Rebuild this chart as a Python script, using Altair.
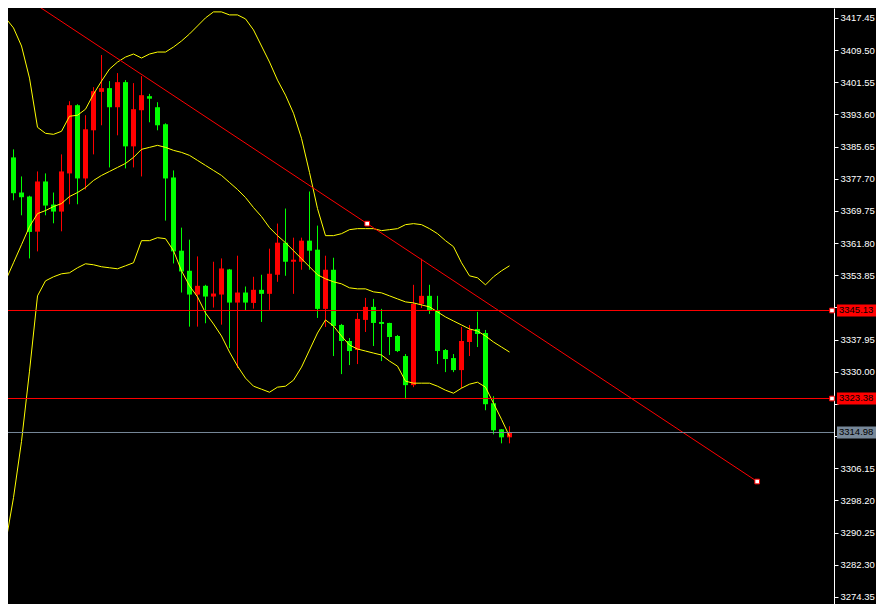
import altair as alt
import pandas as pd

# ---------------- data ----------------
candle_index = list(range(64))
opens = [3378.51, 3382.97, 3374.29, 3373.30, 3364.62, 3377.02, 3371.32, 3369.58, 3379.01, 3395.87,
         3377.77, 3389.67, 3399.17, 3400.09, 3395.37, 3401.57, 3385.70, 3394.63, 3398.10, 3395.37,
         3391.16, 3378.01, 3359.91, 3354.95, 3349.07, 3351.23, 3348.58, 3349.07, 3355.27, 3347.09,
         3349.57, 3347.01, 3350.24, 3349.25, 3353.96, 3361.89, 3357.18, 3357.18, 3362.39, 3360.16,
         3345.53, 3355.20, 3341.56, 3337.59, 3335.36, 3342.80, 3346.02, 3342.30, 3342.05, 3338.83,
         3333.87, 3326.68, 3346.77, 3348.75, 3345.03, 3335.36, 3333.37, 3330.40, 3337.34, 3340.57,
         3339.57, 3322.21, 3315.77, 3313.78]
highs = [3383.97, 3384.96, 3378.26, 3373.50, 3379.50, 3379.01, 3374.29, 3383.72, 3396.86, 3396.12,
         3393.39, 3400.33, 3408.27, 3401.82, 3403.81, 3402.07, 3401.33, 3403.06, 3398.67, 3396.61,
         3391.41, 3379.75, 3365.61, 3362.64, 3358.50, 3351.48, 3357.18, 3358.00, 3355.40, 3358.67,
         3351.06, 3353.46, 3353.96, 3360.41, 3366.61, 3370.33, 3363.13, 3363.13, 3374.54, 3366.11,
         3358.67, 3358.17, 3341.81, 3338.33, 3344.53, 3348.25, 3348.01, 3345.53, 3342.10, 3339.08,
         3334.37, 3351.48, 3357.93, 3351.48, 3348.75, 3335.61, 3334.37, 3341.06, 3341.56, 3344.78,
         3340.32, 3323.95, 3315.80, 3316.51]
lows = [3377.52, 3372.38, 3368.66, 3358.00, 3359.74, 3368.66, 3366.68, 3364.70, 3371.39, 3371.39,
        3375.04, 3383.72, 3390.91, 3380.49, 3388.43, 3380.25, 3380.49, 3378.26, 3391.65, 3389.67,
        3367.35, 3356.76, 3349.57, 3341.14, 3341.14, 3341.98, 3345.85, 3341.63, 3335.85, 3330.89,
        3345.03, 3345.60, 3342.30, 3345.28, 3352.22, 3353.71, 3349.25, 3355.20, 3355.20, 3343.29,
        3341.06, 3333.87, 3329.41, 3331.64, 3331.89, 3339.82, 3336.35, 3332.63, 3334.12, 3334.86,
        3323.21, 3326.18, 3345.77, 3344.29, 3331.89, 3329.90, 3329.90, 3325.93, 3333.87, 3336.10,
        3320.48, 3314.53, 3312.30, 3312.30]
closes = [3382.97, 3374.12, 3373.13, 3364.55, 3377.02, 3371.07, 3369.58, 3379.50, 3395.87, 3377.77,
          3389.92, 3399.34, 3400.09, 3395.37, 3401.57, 3385.70, 3394.88, 3398.35, 3397.48, 3390.91,
          3377.77, 3359.74, 3354.78, 3349.07, 3351.23, 3348.58, 3349.32, 3355.52, 3347.09, 3349.57,
          3347.09, 3350.24, 3349.25, 3354.21, 3361.89, 3357.18, 3357.68, 3362.39, 3359.91, 3345.53,
          3355.20, 3341.31, 3337.59, 3335.11, 3343.05, 3346.02, 3342.05, 3341.81, 3338.58, 3335.11,
          3326.68, 3346.77, 3348.75, 3345.03, 3335.11, 3333.13, 3330.40, 3337.59, 3340.32, 3339.33,
          3321.97, 3315.52, 3313.78, 3314.98]

band_index = list(range(-1, 64))
upper_band = [3416.70, 3417.45, 3414.97, 3410.50, 3402.56, 3390.41, 3388.92, 3388.67, 3389.42, 3393.14,
              3393.39, 3394.88, 3398.60, 3401.82, 3404.80, 3406.53, 3407.77, 3408.52, 3407.53, 3408.52,
              3409.01, 3409.01, 3410.25, 3411.74, 3413.48, 3415.46, 3417.45, 3418.93, 3418.93, 3418.19,
              3418.19, 3417.20, 3414.47, 3410.50, 3406.53, 3402.07, 3398.35, 3393.88, 3387.68, 3379.25,
              3370.32, 3363.63, 3363.63, 3364.12, 3365.11, 3365.36, 3365.36, 3365.36, 3364.87, 3365.11,
              3365.36, 3366.35, 3366.60, 3366.35, 3365.36, 3364.12, 3362.39, 3360.90, 3356.93, 3353.70,
              3353.21, 3351.47, 3353.46, 3354.94, 3356.18]
middle_band = [3347.50, 3352.46, 3356.93, 3361.39, 3365.86, 3369.08, 3369.83, 3370.82, 3371.56, 3373.30,
               3374.29, 3375.53, 3377.27, 3378.51, 3379.50, 3380.49, 3381.48, 3382.97, 3384.96, 3385.45,
               3385.95, 3385.45, 3384.71, 3384.21, 3383.47, 3382.23, 3380.99, 3379.75, 3378.51, 3376.77,
               3375.04, 3373.05, 3370.57, 3368.34, 3365.61, 3363.63, 3361.89, 3359.91, 3357.93, 3355.94,
               3353.96, 3352.96, 3352.22, 3351.72, 3350.73, 3350.48, 3350.48, 3349.74, 3349.49, 3348.75,
               3348.00, 3347.26, 3347.01, 3346.51, 3346.02, 3344.78, 3343.54, 3342.54, 3341.56, 3340.57,
               3340.06, 3338.83, 3337.34, 3336.10, 3334.86]
lower_band = [3278.55, 3287.48, 3298.89, 3312.78, 3330.14, 3348.74, 3352.46, 3353.46, 3354.20, 3354.45,
              3355.69, 3356.68, 3356.43, 3355.94, 3355.69, 3355.44, 3356.18, 3356.93, 3362.39, 3362.39,
              3363.13, 3362.88, 3359.91, 3354.94, 3351.23, 3348.50, 3344.53, 3341.80, 3338.82, 3334.86,
              3331.38, 3328.41, 3326.42, 3325.68, 3324.93, 3326.18, 3326.42, 3327.91, 3331.13, 3335.35,
              3339.57, 3342.80, 3341.30, 3338.82, 3336.59, 3335.61, 3335.11, 3334.61, 3334.12, 3332.63,
              3331.38, 3327.66, 3327.17, 3327.17, 3327.17, 3326.42, 3325.43, 3324.69, 3325.93, 3326.92,
              3327.41, 3326.18, 3322.21, 3318.24, 3314.02]

tick_values = [3417.45, 3409.50, 3401.55, 3393.60, 3385.65, 3377.70, 3369.75, 3361.80, 3353.85,
               3345.90, 3337.95, 3330.00, 3322.05, 3314.10, 3306.15, 3298.20, 3290.25, 3282.30, 3274.35]
# tick labels that sit under the price tags in the reference
covered_ticks = [3345.90, 3322.05, 3314.10]

trend_index = [-3.54, 93.96]
trend_price = [3430.34, 3302.86]
trend_marker_index = [45.21, 93.96]
trend_marker_price = [3366.60, 3302.86]

level_prices = [3345.13, 3323.38]
bid_price = [3314.98]

# ---------------- frames ----------------
candles = pd.DataFrame({"i": candle_index, "open": opens, "high": highs,
                        "low": lows, "close": closes})
candles["dir"] = ["up" if c >= o else "down" for o, c in zip(opens, closes)]

bands = pd.concat([
    pd.DataFrame({"i": band_index, "price": upper_band, "band": "upper"}),
    pd.DataFrame({"i": band_index, "price": middle_band, "band": "middle"}),
    pd.DataFrame({"i": band_index, "price": lower_band, "band": "lower"}),
])
trend = pd.DataFrame({"i": trend_index, "price": trend_price})
trend_markers = pd.DataFrame({"i": trend_marker_index, "price": trend_marker_price})
levels = pd.DataFrame({"price": level_prices})
bid = pd.DataFrame({"price": bid_price})
tags = pd.DataFrame({
    "price": level_prices + bid_price,
    "label": [f"{p:.2f}" for p in level_prices + bid_price],
    "bg": ["#ff0000", "#ff0000", "#778899"],
})

# ---------------- scales / axis ----------------
FONT = "Liberation Sans"
FS = 9.5

xs = alt.Scale(domain=[0.3125, 103.5625], nice=False, zero=False, padding=0)
ys = alt.Scale(domain=[3272.589, 3419.895], nice=False, zero=False, padding=0)
hidden = " || ".join(f"abs(datum.value - {v}) < 0.01" for v in covered_ticks)
yaxis = alt.Axis(
    orient="right", values=tick_values, format=".2f", grid=False,
    labelExpr=f"({hidden}) ? '' : format(datum.value, '.2f')",
    domainColor="#ffffff", domainWidth=1, tickColor="#ffffff", tickSize=4, tickWidth=1,
    labelColor="#ffffff", labelFont=FONT, labelFontSize=FS, labelPadding=2,
    labelOverlap=False, labelFlush=False, title=None)

X = alt.X("i:Q", scale=xs, axis=None)


def Y(field):
    return alt.Y(field, scale=ys, axis=yaxis)


col = alt.Color("dir:N", scale=alt.Scale(domain=["up", "down"], range=["#ff0000", "#00ff00"]),
                legend=None)

wicks = alt.Chart(candles).mark_rule(strokeWidth=1).encode(
    x=X, y=Y("low:Q"), y2="high:Q", color=col,
)
bodies = alt.Chart(candles).mark_bar(width=5).encode(
    x=X, y=Y("open:Q"), y2="close:Q", color=col,
)
band_lines = alt.Chart(bands).mark_line(color="#ffff00", strokeWidth=1, clip=True).encode(
    x=X, y=Y("price:Q"), detail="band:N",
)
trend_line = alt.Chart(trend).mark_line(color="#ff0000", strokeWidth=1, clip=True).encode(
    x=X, y=Y("price:Q"),
)
trend_pts = alt.Chart(trend_markers).mark_square(
    size=22, fill="#ffffff", stroke="#ff0000", strokeWidth=1, opacity=1, fillOpacity=1
).encode(x=X, y=Y("price:Q"))
level_rules = alt.Chart(levels).mark_rule(color="#ff0000", strokeWidth=1).encode(
    y=Y("price:Q"))
bid_rule = alt.Chart(bid).mark_rule(color="#778899", strokeWidth=1).encode(
    y=Y("price:Q"))
level_pts = alt.Chart(levels).mark_square(
    size=22, fill="#ffffff", stroke="#ff0000", strokeWidth=1, opacity=1, fillOpacity=1
).encode(x=alt.value(824), y=Y("price:Q"))
tag_boxes = alt.Chart(tags).mark_rule(strokeWidth=12, strokeCap="butt").encode(
    x=alt.value(829), x2=alt.value(868), y=Y("price:Q"),
    color=alt.Color("bg:N", scale=None),
)
tag_text = alt.Chart(tags).mark_text(
    align="left", baseline="middle", font=FONT, fontSize=FS, color="#000000"
).encode(x=alt.value(831), y=Y("price:Q"), text="label:N")

chart = alt.layer(
    wicks, bodies, band_lines, trend_line, level_rules, bid_rule,
    trend_pts, level_pts, tag_boxes, tag_text,
).properties(
    width=826, height=596,
    padding={"left": 0, "top": 0, "right": 42, "bottom": 0},
    autosize=alt.AutoSizeParams(type="none"),
    background="#000000",
).configure_view(strokeWidth=0)

chart.save("out.html", embed_options={"renderer": "svg", "actions": False})
